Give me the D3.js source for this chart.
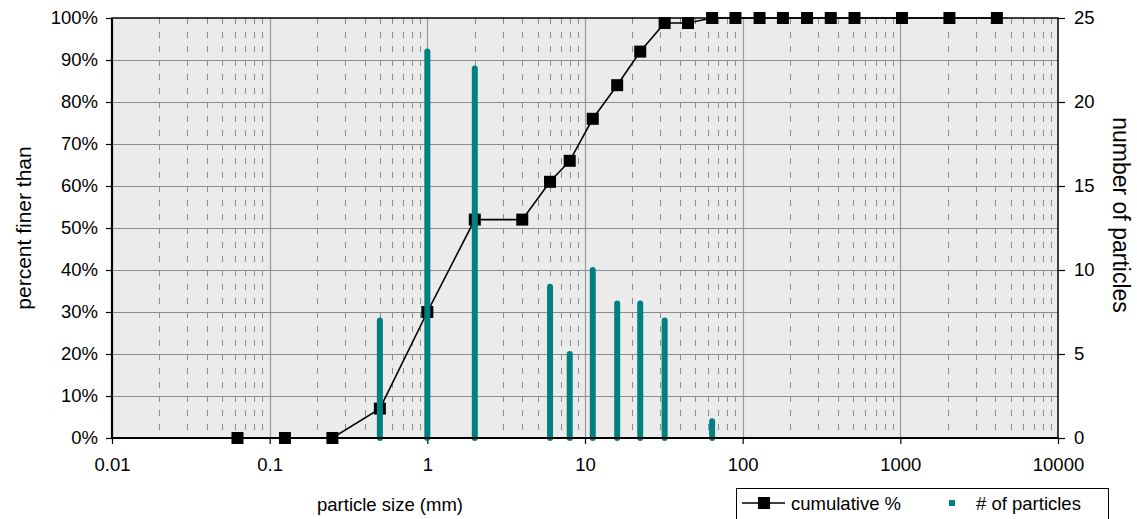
<!DOCTYPE html>
<html>
<head>
<meta charset="utf-8">
<script src="https://cdn.jsdelivr.net/npm/d3@7"></script>
<style>
  html, body { margin: 0; padding: 0; background: #fff; }
  svg { display: block; font-family: "Liberation Sans", Arial, sans-serif; }
</style>
</head>
<body>
<svg id="chart" width="1137" height="519"></svg>
<script>
// Sieve sizes (mm) and cumulative percent finer
const cumSizes = [0.0625, 0.125, 0.25, 0.5, 1, 2, 4, 6, 8, 11.2, 16, 22.4, 32, 45,
                  64, 90, 128, 180, 256, 362, 512, 1024, 2048, 4096];
const cumPercent = [0, 0, 0, 7, 30, 52, 52, 61, 66, 76, 84, 92, 98.8, 98.8,
                    100, 100, 100, 100, 100, 100, 100, 100, 100, 100];

// Particle counts per size class
const countSizes = [0.5, 1, 2, 6, 8, 11.2, 16, 22.4, 32, 64];
const countValues = [7, 23, 22, 9, 5, 10, 8, 8, 7, 1];

// Axis tick values and labels
const xTicks = [0.01, 0.1, 1, 10, 100, 1000, 10000];
const xTickLabels = ["0.01", "0.1", "1", "10", "100", "1000", "10000"];
const leftTicks = [0, 0.1, 0.2, 0.3, 0.4, 0.5, 0.6, 0.7, 0.8, 0.9, 1];
const rightTicks = [0, 5, 10, 15, 20, 25];

const svg = d3.select("#chart");
const L = 112, R = 1058, T = 18, B = 438;

const x = d3.scaleLog().domain([0.01, 10000]).range([L, R]);
const yL = d3.scaleLinear().domain([0, 1]).range([B, T]);
const yR = d3.scaleLinear().domain([0, 25]).range([B, T]);

// plot background
svg.append("rect").attr("x", L).attr("y", T).attr("width", R - L).attr("height", B - T)
  .attr("fill", "#ebebeb");

// minor vertical gridlines (2..9 within each decade), dashed
const minor = [];
for (let e = -2; e < 4; e++) {
  for (let m = 2; m <= 9; m++) minor.push(m * Math.pow(10, e));
}
svg.append("g").selectAll("line").data(minor).join("line")
  .attr("x1", d => Math.round(x(d)) + 0.5).attr("x2", d => Math.round(x(d)) + 0.5)
  .attr("y1", T).attr("y2", B)
  .attr("stroke", "#8c8c8c").attr("stroke-width", 1)
  .attr("stroke-dasharray", "6,8");

// major vertical gridlines at decades
svg.append("g").selectAll("line").data(xTicks.slice(1, -1)).join("line")
  .attr("x1", d => Math.round(x(d)) + 0.5).attr("x2", d => Math.round(x(d)) + 0.5)
  .attr("y1", T).attr("y2", B)
  .attr("stroke", "#999").attr("stroke-width", 1.2);

// horizontal gridlines
svg.append("g").selectAll("line").data(leftTicks.slice(1, -1)).join("line")
  .attr("x1", L).attr("x2", R)
  .attr("y1", d => Math.round(yL(d)) + 0.5).attr("y2", d => Math.round(yL(d)) + 0.5)
  .attr("stroke", "#8c8c8c").attr("stroke-width", 1.2);

// axes
const axisLeft = d3.axisLeft(yL).tickValues(leftTicks).tickSize(6)
  .tickFormat(d => Math.round(d * 100) + "%");
const axisRight = d3.axisRight(yR).tickValues(rightTicks).tickSize(7);
const axisBottom = d3.axisBottom(x).tickValues(xTicks).tickSize(6)
  .tickFormat((d, i) => xTickLabels[i]);

function styleAxis(g) {
  g.select(".domain").remove();
  g.selectAll(".tick line").attr("stroke", "#000").attr("stroke-width", 1.2);
  g.selectAll(".tick text").attr("fill", "#000").attr("font-size", "18.5px")
    .attr("font-family", "'Liberation Sans', Arial, sans-serif");
}

svg.append("g").attr("transform", `translate(${L},0)`).call(axisLeft).call(styleAxis)
  .selectAll(".tick text").attr("x", -14);
svg.append("g").attr("transform", `translate(${R},0)`).call(axisRight).call(styleAxis)
  .selectAll(".tick text").attr("x", 16);
svg.append("g").attr("transform", `translate(0,${B})`).call(axisBottom).call(styleAxis)
  .selectAll(".tick text").attr("y", 20);

// cumulative line and markers
const line = d3.line().x((d, i) => x(cumSizes[i])).y(d => yL(d / 100));
svg.append("path").datum(cumPercent).attr("d", line)
  .attr("fill", "none").attr("stroke", "#000").attr("stroke-width", 1.6);
svg.append("g").selectAll("rect").data(cumPercent).join("rect")
  .attr("x", (d, i) => x(cumSizes[i]) - 6).attr("y", d => yL(d / 100) - 6)
  .attr("width", 12).attr("height", 12).attr("fill", "#000");

// particle count bars
svg.append("g").selectAll("line").data(countValues).join("line")
  .attr("x1", (d, i) => x(countSizes[i])).attr("x2", (d, i) => x(countSizes[i]))
  .attr("y1", yR(0)).attr("y2", d => yR(d))
  .attr("stroke", "#008080").attr("stroke-width", 6).attr("stroke-linecap", "round");

// plot frame
svg.append("rect").attr("x", L).attr("y", T).attr("width", R - L).attr("height", B - T)
  .attr("fill", "none").attr("stroke", "#000").attr("stroke-width", 1.5);
svg.append("line").attr("x1", L).attr("x2", L).attr("y1", T).attr("y2", B)
  .attr("stroke", "#000").attr("stroke-width", 2.2);
svg.append("line").attr("x1", L).attr("x2", R).attr("y1", B).attr("y2", B)
  .attr("stroke", "#000").attr("stroke-width", 2.2);

// axis titles
svg.append("text").attr("transform", "translate(31,228) rotate(-90)")
  .attr("text-anchor", "middle").attr("font-size", "21px").text("percent finer than");
svg.append("text").attr("transform", "translate(1113,215) rotate(90)")
  .attr("text-anchor", "middle").attr("font-size", "23px").text("number of particles");
svg.append("text").attr("x", 390).attr("y", 511)
  .attr("text-anchor", "middle").attr("font-size", "18.5px").text("particle size (mm)");

// legend
const lg = svg.append("g");
lg.append("rect").attr("x", 736.5).attr("y", 488.5).attr("width", 372).attr("height", 45)
  .attr("fill", "#fff").attr("stroke", "#000").attr("stroke-width", 1);
lg.append("line").attr("x1", 742).attr("x2", 785).attr("y1", 503).attr("y2", 503)
  .attr("stroke", "#000").attr("stroke-width", 1.6);
lg.append("rect").attr("x", 758).attr("y", 497).attr("width", 12).attr("height", 12).attr("fill", "#000");
lg.append("text").attr("x", 791).attr("y", 510).attr("font-size", "18.5px").text("cumulative %");
lg.append("rect").attr("x", 949).attr("y", 500).attr("width", 6).attr("height", 6).attr("fill", "#008080");
lg.append("text").attr("x", 976).attr("y", 510).attr("font-size", "18.5px").text("# of particles");
</script>
</body>
</html>
